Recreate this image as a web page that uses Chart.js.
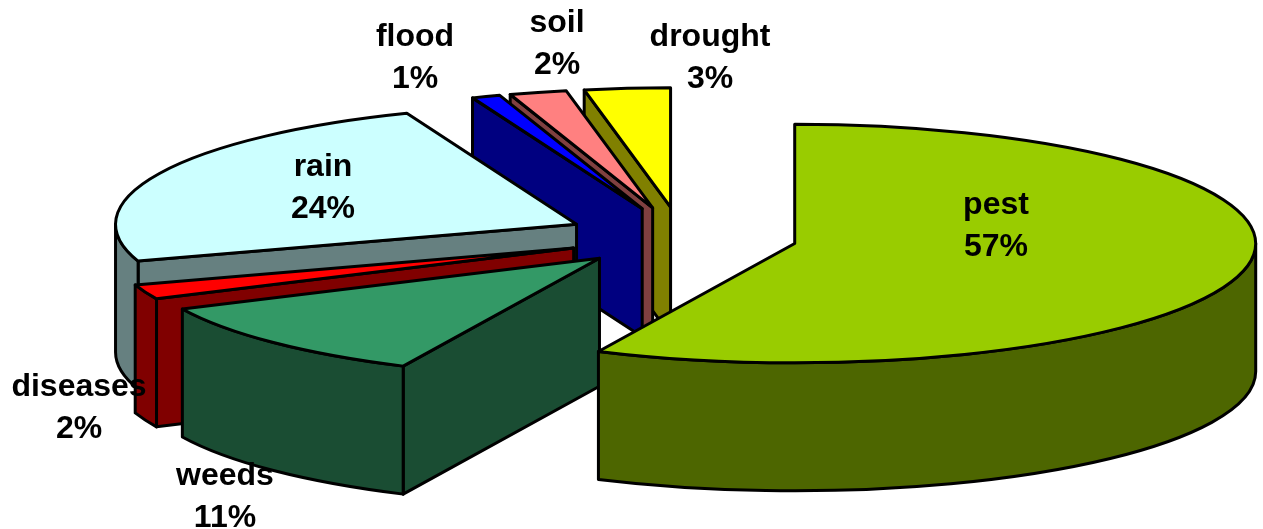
<!DOCTYPE html>
<html>
<head>
<meta charset="utf-8">
<title>Causes of crop loss</title>
<script src="https://cdn.jsdelivr.net/npm/chart.js@4"></script>
<style>
    html, body { margin: 0; padding: 0; background: #fff; }
    canvas { display: block; }
</style>
</head>
<body>
<canvas id="lossChart" width="1263" height="529"></canvas>
<script>
const categories = ['pest', 'weeds', 'diseases', 'rain', 'flood', 'soil', 'drought'];
const shares = [57, 11, 2, 24, 1, 2, 3];
const topColors = ['#99CC00', '#339966', '#FF0000', '#CCFFFF', '#0000FF', '#FF8080', '#FFFF00'];
const sideColors = ['#4D6600', '#1A4D33', '#800000', '#668080', '#000080', '#804040', '#808000'];

// label centres (first line), same order as categories
const labelX = [996, 225, 79, 323, 415, 557, 710];
const labelY = [205, 476, 387, 167, 37, 23, 37];

const SQUASH = 0.2587;   // ellipse height / width
const DEPTH = 128;       // height of the pie walls
const EXPLODE = 116;     // how far each slice is pulled out
const RADIUS = 461;
const LINE_GAP = 42;

// paint back to front so nearer slices cover the ones behind
const paintOrder = [6, 5, 4, 3, 2, 1, 0];

function outline(ctx) {
    ctx.strokeStyle = '#000';
    ctx.lineWidth = 3;
    ctx.lineJoin = 'round';
    ctx.stroke();
}

function radialWall(ctx, cx, cy, px, py, side) {
    ctx.beginPath();
    ctx.moveTo(cx, cy);
    ctx.lineTo(px, py);
    ctx.lineTo(px, py + DEPTH);
    ctx.lineTo(cx, cy + DEPTH);
    ctx.closePath();
    ctx.fillStyle = side;
    ctx.fill();
    outline(ctx);
}

function drawSlice(ctx, arc, side) {
    const { x, y, startAngle: a0, endAngle: a1, outerRadius: r } = arc;
    const mid = (a0 + a1) / 2;
    const cx = x + Math.cos(mid) * EXPLODE;
    const cy = y + Math.sin(mid) * EXPLODE * SQUASH;
    const ry = r * SQUASH;

    // cut faces, only the ones turned towards the viewer
    if (Math.cos(a0) < 0) {
        radialWall(ctx, cx, cy, cx + Math.cos(a0) * r, cy + Math.sin(a0) * ry, side);
    }
    if (Math.cos(a1) > 0) {
        radialWall(ctx, cx, cy, cx + Math.cos(a1) * r, cy + Math.sin(a1) * ry, side);
    }

    // curved outer wall, front half only
    const lo = Math.max(a0, 0);
    const hi = Math.min(a1, Math.PI);
    if (hi > lo) {
        ctx.beginPath();
        ctx.ellipse(cx, cy, r, ry, 0, lo, hi);
        ctx.ellipse(cx, cy + DEPTH, r, ry, 0, hi, lo, true);
        ctx.closePath();
        ctx.fillStyle = side;
        ctx.fill();
        outline(ctx);
    }

    // top face: the chart's own arc element, squashed and moved into place
    ctx.save();
    ctx.translate(cx, cy);
    ctx.scale(1, SQUASH);
    ctx.translate(-x, -y);
    arc.draw(ctx);
    ctx.restore();

    ctx.beginPath();
    ctx.moveTo(cx, cy);
    ctx.ellipse(cx, cy, r, ry, 0, a0, a1);
    ctx.closePath();
    outline(ctx);
}

const pie3d = {
    id: 'pie3d',
    beforeDatasetsDraw(chart) {
        const arcs = chart.getDatasetMeta(0).data;
        paintOrder.forEach(i => drawSlice(chart.ctx, arcs[i], sideColors[i]));
        return false;
    },
    afterDraw(chart) {
        const ctx = chart.ctx;
        ctx.save();
        ctx.font = 'bold 32px "Liberation Sans", Arial, sans-serif';
        ctx.fillStyle = '#000';
        ctx.textAlign = 'center';
        ctx.textBaseline = 'middle';
        categories.forEach((name, i) => {
            ctx.fillText(name, labelX[i], labelY[i]);
            ctx.fillText(shares[i] + '%', labelX[i], labelY[i] + LINE_GAP);
        });
        ctx.restore();
    }
};

new Chart(document.getElementById('lossChart'), {
    type: 'pie',
    data: {
        labels: categories,
        datasets: [{
            data: shares,
            backgroundColor: topColors,
            borderWidth: 0,
            radius: RADIUS
        }]
    },
    options: {
        responsive: false,
        animation: false,
        layout: { padding: { left: 100, bottom: 55 } },
        plugins: {
            legend: { display: false },
            tooltip: { enabled: false }
        }
    },
    plugins: [pie3d]
});
</script>
</body>
</html>
